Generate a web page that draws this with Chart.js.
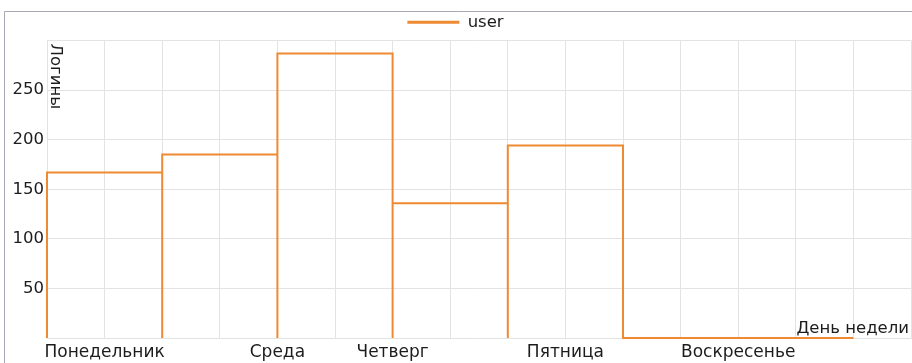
<!DOCTYPE html>
<html>
<head>
<meta charset="utf-8">
<script src="https://cdn.jsdelivr.net/npm/chart.js@4"></script>
<style>
  html, body { margin: 0; padding: 0; background: #fff; }
  #chart { display: block; }
</style>
</head>
<body>
<canvas id="chart" width="912" height="363"></canvas>
<script>
// logins per weekday, each day spans two units on the x axis
const days = ['Понедельник', 'Вторник', 'Среда', 'Четверг', 'Пятница', 'Суббота', 'Воскресенье'];
const logins = [167, 185, 287, 136, 194, 0, 0];
const dayWidth = 2;

// x axis labels shown only at these tick values
const tickPositions = [1, 4, 6, 9, 12];
const tickNames = ['Понедельник', 'Среда', 'Четверг', 'Пятница', 'Воскресенье'];

const orange = '#ee8a31';
const gridColor = '#e3e3e3';
const textColor = '#1c1c1c';

// histogram outline: every day rises from zero and drops back
const points = [];
logins.forEach((v, i) => {
  const x0 = i * dayWidth, x1 = x0 + dayWidth;
  if (v > 0) {
    points.push({ x: x0, y: 0 }, { x: x0, y: v }, { x: x1, y: v }, { x: x1, y: 0 });
  } else {
    points.push({ x: x0, y: 0 }, { x: x1, y: 0 });
  }
});

const frame = {
  id: 'frame',
  beforeDraw(chart) {
    const c = chart.ctx;
    c.save();
    c.strokeStyle = '#a9a9b6';
    c.lineWidth = 1;
    c.beginPath();
    c.moveTo(4.5, chart.height);
    c.lineTo(4.5, 11.5);
    c.lineTo(chart.width, 11.5);
    c.stroke();
    c.restore();
  },
  afterDraw(chart) {
    const c = chart.ctx;
    const a = chart.chartArea;
    c.save();
    c.fillStyle = textColor;
    c.font = '16.5px "DejaVu Sans"';
    c.textAlign = 'right';
    c.textBaseline = 'alphabetic';
    c.fillText('День недели', a.right - 2, a.bottom - 5);
    c.translate(a.left + 4, a.top + 3);
    c.rotate(Math.PI / 2);
    c.textAlign = 'left';
    c.fillText('Логины', 0, 0);
    c.restore();
  }
};

const ctx = document.getElementById('chart').getContext('2d');
const chart = new Chart(ctx, {
  type: 'line',
  data: {
    datasets: [{
      label: 'user',
      data: points,
      borderColor: orange,
      backgroundColor: orange,
      borderWidth: 2,
      pointRadius: 0,
      tension: 0,
      fill: false,
      clip: false,
    }]
  },
  options: {
    responsive: false,
    animation: false,
    layout: { padding: { top: 5, left: 0, right: 1, bottom: 0 } },
    plugins: {
      legend: {
        position: 'top',
        labels: {
          usePointStyle: true,
          pointStyle: 'line',
          pointStyleWidth: 52,
          color: textColor,
          font: { family: 'DejaVu Sans', size: 16.5, lineHeight: 1 },
          padding: 9,
          generateLabels(chart) {
            const items = Chart.defaults.plugins.legend.labels.generateLabels(chart);
            items.forEach(item => { item.lineWidth = 3; });
            return items;
          }
        }
      },
      tooltip: { enabled: false },
    },
    scales: {
      x: {
        type: 'linear',
        min: 0,
        max: 15,
        afterFit(scale) {
          scale.height = 25;
          scale.paddingLeft = 0;
          scale.paddingRight = 0;
        },
        grid: { color: gridColor, drawTicks: false },
        border: { color: gridColor },
        ticks: {
          stepSize: 1,
          autoSkip: false,
          maxRotation: 0,
          padding: 4,
          color: textColor,
          font: { family: 'DejaVu Sans', size: 17 },
          callback(v) {
            const i = tickPositions.indexOf(v);
            return i >= 0 ? tickNames[i] : '';
          }
        }
      },
      y: {
        min: 0,
        max: 300,
        afterFit(scale) { scale.width = 47; },
        grid: { color: gridColor, drawTicks: false },
        border: { color: gridColor },
        ticks: {
          stepSize: 50,
          padding: 3,
          color: textColor,
          font: { family: 'DejaVu Sans', size: 16.5 },
          callback(v) { return (v === 0 || v === 300) ? '' : v; }
        }
      }
    }
  },
  plugins: [frame]
});
</script>
</body>
</html>
